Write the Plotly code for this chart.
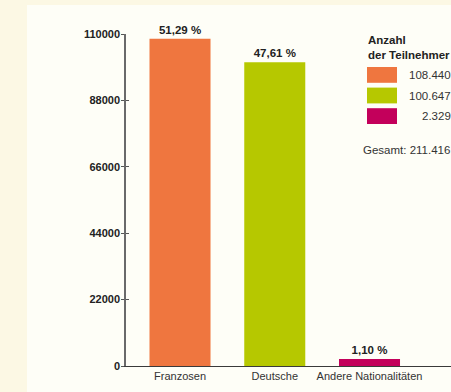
import plotly.graph_objects as go

categories = ["Franzosen", "Deutsche", "Andere Nationalitäten"]
participants = [108440, 100647, 2329]
percent_labels = ["51,29 %", "47,61 %", "1,10 %"]
bar_colors = ["#EF763F", "#B6C800", "#C3005B"]
y_ticks = [0, 22000, 44000, 66000, 88000, 110000]
legend_title = ["Anzahl", "der Teilnehmer"]

W, H = 451, 392
L, R, T, B = 126, 451, 34, 366  # plot area in px


def px_x(px):
    return (px - L) / (R - L)


def px_y(py):
    return (B - py) / (B - T)


def de_num(v):
    return f"{v:,}".replace(",", ".")


FONT = "Liberation Sans, Arial, sans-serif"

fig = go.Figure()
fig.add_trace(go.Bar(
    x=categories, y=participants,
    marker=dict(color=bar_colors, line=dict(width=0)),
    text=percent_labels, texttemplate="<b>%{text}</b>",
    textposition="outside", cliponaxis=False,
    textfont=dict(family=FONT, size=11.5, color="#222222"),
    showlegend=False, hoverinfo="x+y",
))
# empty helper trace so the overlaid axis (inner tick marks) is drawn
fig.add_trace(go.Scatter(x=[], y=[], yaxis="y2", showlegend=False, hoverinfo="skip"))

fig.update_layout(
    width=W, height=H,
    margin=dict(l=L, r=W - R, t=T, b=H - B, pad=0),
    paper_bgcolor="#FCF8E4",
    plot_bgcolor="#FEFEF7",
    bargap=0.356,
    font=dict(family=FONT, color="#222222"),
    xaxis=dict(
        range=[-0.57, 2.86], showgrid=False, zeroline=False,
        showline=True, linecolor="#3a3a3a", linewidth=1,
        ticks="", tickfont=dict(family=FONT, size=11, color="#333333"),
    ),
    yaxis=dict(
        range=[0, 110000], tickvals=y_ticks,
        ticktext=[f"<b>{v}</b>" for v in y_ticks],
        showgrid=False, zeroline=False,
        showline=True, linecolor="#6a6a6a", linewidth=1.5,
        ticks="outside", ticklen=3, tickcolor="#555555", tickwidth=1,
        ticklabelstandoff=-1,
        tickfont=dict(family=FONT, size=11, color="#222222"),
    ),
    yaxis2=dict(
        range=[0, 110000], tickvals=y_ticks, overlaying="y", side="left",
        anchor="x",
        showticklabels=False, showgrid=False, zeroline=False, showline=False,
        ticks="inside", ticklen=3, tickcolor="#555555", tickwidth=1,
    ),
)

shapes = [dict(
    type="rect", xref="paper", yref="paper", layer="below",
    x0=px_x(27), x1=px_x(460), y0=px_y(5), y1=px_y(400),
    fillcolor="#FEFEF7", line=dict(width=0),
)]
annotations = []
for i, (val, col) in enumerate(zip(participants, bar_colors)):
    top = 67 + i * 20.6
    shapes.append(dict(
        type="rect", xref="paper", yref="paper",
        x0=px_x(367), x1=px_x(397), y0=px_y(top), y1=px_y(top + 15.8),
        fillcolor=col, line=dict(width=0),
    ))
    annotations.append(dict(
        xref="paper", yref="paper", x=px_x(453), y=px_y(top + 8),
        xanchor="right", yanchor="middle", showarrow=False,
        text=de_num(val), font=dict(family=FONT, size=11.5, color="#333333"),
    ))
for j, line in enumerate(legend_title):
    annotations.append(dict(
        xref="paper", yref="paper", x=px_x(366), y=px_y(40 + j * 14.5),
        xanchor="left", yanchor="middle", showarrow=False,
        text=f"<b>{line}</b>", font=dict(family=FONT, size=11.5, color="#222222"),
    ))
annotations.append(dict(
    xref="paper", yref="paper", x=px_x(452), y=px_y(150),
    xanchor="right", yanchor="middle", showarrow=False,
    text=f"Gesamt: {de_num(sum(participants))}",
    font=dict(family=FONT, size=11.5, color="#333333"),
))
fig.update_layout(shapes=shapes, annotations=annotations)

fig.write_html("out.html")
